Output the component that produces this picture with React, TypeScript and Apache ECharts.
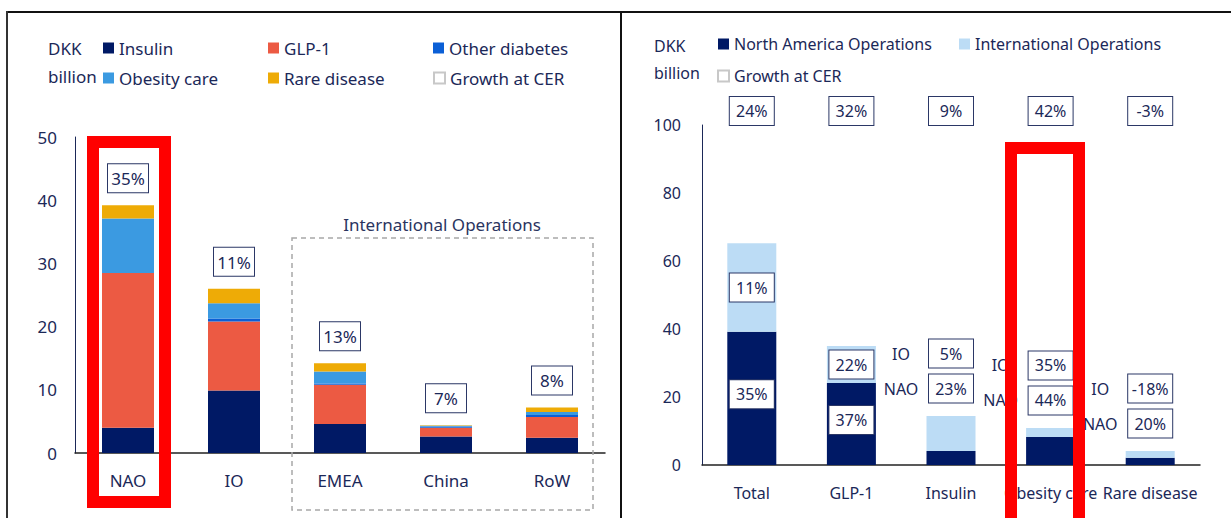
import React, { useEffect, useRef } from "react";
import * as echarts from "echarts";

// ---------- Left chart data (DKK billion) ----------
const leftCategories = ["NAO", "IO", "EMEA", "China", "RoW"];
const insulinValues = [4.0, 9.9, 4.6, 2.6, 2.4];
const glp1Values = [24.5, 10.9, 6.2, 1.4, 3.3];
const otherDiabetesValues = [0.0, 0.5, 0.2, 0.2, 0.3];
const obesityValues = [8.6, 2.4, 1.9, 0.1, 0.5];
const rareValues = [2.1, 2.3, 1.3, 0.1, 0.7];
const leftGrowth = ["35%", "11%", "13%", "7%", "8%"];
const leftYTicks = { min: 0, max: 50, interval: 10 };

// ---------- Right chart data (DKK billion) ----------
const rightCategories = ["Total", "GLP-1", "Insulin", "Obesity care", "Rare disease"];
const naoSales = [39.2, 24.1, 4.1, 8.2, 2.1];
const ioSales = [26.0, 10.9, 10.3, 2.7, 2.0];
const totalGrowth = ["24%", "32%", "9%", "42%", "-3%"];
const naoGrowth = ["35%", "37%", "23%", "44%", "20%"];
const ioGrowth = ["11%", "22%", "5%", "35%", "-18%"];
const rightYTicks = { min: 0, max: 100, interval: 20 };
const insideLabelCategories = ["Total", "GLP-1"];

const FONT = "Noto Sans";
const TEXT = "#1b2858";
const NAVY = "#001965";
const C_GLP1 = "#ec5a43";
const C_OTHER = "#0b5fd6";
const C_OBESITY = "#3b9ae1";
const C_RARE = "#eeab06";
const C_IO = "#bcdcf5";
const BOX_BORDER = "#2b3766";

const leftBox = {
  width: 32,
  align: "center",
  verticalAlign: "middle",
  padding: [6, 4, 5, 4],
  borderColor: BOX_BORDER,
  borderWidth: 1,
  backgroundColor: "#fff",
  color: TEXT,
  fontSize: 17,
  fontFamily: FONT,
};
const rightBox = { ...leftBox, width: 34, padding: [6, 5, 6, 5], fontSize: 16 };

export default function App() {
  const ref = useRef<HTMLDivElement>(null);

  useEffect(() => {
    document.body.style.margin = "0";
    if (!ref.current) return;
    const chart = echarts.init(ref.current, undefined, { renderer: "svg" });

    const ioData = ioSales.map((v, i) => {
      if (insideLabelCategories.includes(rightCategories[i])) {
        return {
          value: v,
          label: {
            show: true,
            position: "inside",
            formatter: `{box|${ioGrowth[i]}}`,
            rich: { box: rightBox },
          },
        };
      }
      return {
        value: v,
        label: {
          show: true,
          position: "top",
          distance: 10,
          formatter: `{lbl|IO}{box|${ioGrowth[i]}}{sp|}\n{lbl|NAO}{box|${naoGrowth[i]}}{sp|}`,
          rich: {
            lbl: {
              width: 38,
              align: "right",
              padding: [0, 9, 0, 0],
              lineHeight: 35,
              color: TEXT,
              fontSize: 16,
              fontFamily: FONT,
            },
            box: rightBox,
            sp: { width: 47, lineHeight: 35 },
          },
        },
      };
    });

    const naoData = naoSales.map((v, i) => {
      if (insideLabelCategories.includes(rightCategories[i])) {
        return {
          value: v,
          label: {
            show: true,
            position: "inside",
            offset: [0, -4],
            formatter: `{box|${naoGrowth[i]}}`,
            rich: { box: rightBox },
          },
        };
      }
      return { value: v };
    });

    const leftAxisLabel = { color: TEXT, fontSize: 17, fontFamily: FONT };
    const rightAxisLabel = { color: TEXT, fontSize: 16, fontFamily: FONT };

    chart.setOption({
      animation: false,
      textStyle: { fontFamily: FONT },
      title: [
        {
          text: "DKK\nbillion",
          left: 48,
          top: 34,
          padding: 0,
          textStyle: { fontSize: 17, fontWeight: "normal", color: TEXT, lineHeight: 28, fontFamily: FONT },
        },
        {
          text: "DKK\nbillion",
          left: 654,
          top: 32,
          padding: 0,
          textStyle: { fontSize: 16, fontWeight: "normal", color: TEXT, lineHeight: 27, fontFamily: FONT },
        },
      ],
      legend: [
        {
          left: 103,
          top: 38,
          padding: 0,
          width: 490,
          itemWidth: 11,
          itemHeight: 11,
          itemGap: 10,
          icon: "rect",
          data: ["Insulin", "GLP-1", "Other diabetes", "Obesity care", "Rare disease", "Growth at CER"],
          textStyle: { color: TEXT, fontSize: 17, fontFamily: FONT, width: 139, lineHeight: 20 },
        },
        {
          left: 717,
          top: 34,
          padding: 0,
          width: 480,
          itemWidth: 11,
          itemHeight: 11,
          itemGap: 12,
          icon: "rect",
          data: ["North America Operations", "International Operations", "Growth at CER"],
          textStyle: { color: TEXT, fontSize: 16, fontFamily: FONT, width: 213, lineHeight: 20 },
        },
      ],
      grid: [
        { left: 75, top: 137, width: 530, height: 316 },
        { left: 702, top: 125, width: 498, height: 340 },
      ],
      xAxis: [
        {
          type: "category",
          gridIndex: 0,
          data: leftCategories,
          axisLine: { lineStyle: { color: "#222", width: 1.5 } },
          axisTick: { show: false },
          axisLabel: { ...leftAxisLabel, margin: 19, interval: 0 },
        },
        {
          type: "category",
          gridIndex: 1,
          data: rightCategories,
          axisLine: { lineStyle: { color: "#222", width: 1.5 } },
          axisTick: { show: false },
          axisLabel: { ...rightAxisLabel, margin: 20, interval: 0, hideOverlap: false },
        },
        {
          type: "category",
          gridIndex: 1,
          position: "top",
          data: rightCategories,
          axisLine: { show: false },
          axisTick: { show: false },
          axisLabel: {
            interval: 0,
            margin: 0,
            formatter: (_v: string, i: number) => `{box|${totalGrowth[i]}}`,
            rich: { box: rightBox },
          },
        },
      ],
      yAxis: [
        {
          type: "value",
          gridIndex: 0,
          ...leftYTicks,
          axisLine: { show: true, lineStyle: { color: TEXT, width: 1 } },
          axisTick: { show: false },
          splitLine: { show: false },
          axisLabel: { ...leftAxisLabel, margin: 18 },
        },
        {
          type: "value",
          gridIndex: 1,
          ...rightYTicks,
          axisLine: { show: true, lineStyle: { color: TEXT, width: 1 } },
          axisTick: { show: false },
          splitLine: { show: false },
          axisLabel: { ...rightAxisLabel, margin: 21 },
        },
      ],
      series: [
        { name: "Insulin", type: "bar", stack: "L", xAxisIndex: 0, yAxisIndex: 0, barWidth: 52, data: insulinValues, itemStyle: { color: NAVY } },
        { name: "GLP-1", type: "bar", stack: "L", xAxisIndex: 0, yAxisIndex: 0, barWidth: 52, data: glp1Values, itemStyle: { color: C_GLP1 } },
        { name: "Other diabetes", type: "bar", stack: "L", xAxisIndex: 0, yAxisIndex: 0, barWidth: 52, data: otherDiabetesValues, itemStyle: { color: C_OTHER } },
        { name: "Obesity care", type: "bar", stack: "L", xAxisIndex: 0, yAxisIndex: 0, barWidth: 52, data: obesityValues, itemStyle: { color: C_OBESITY } },
        {
          name: "Rare disease",
          type: "bar",
          stack: "L",
          xAxisIndex: 0,
          yAxisIndex: 0,
          barWidth: 52,
          data: rareValues,
          itemStyle: { color: C_RARE },
          label: {
            show: true,
            position: "top",
            distance: 13,
            formatter: (p: any) => `{box|${leftGrowth[p.dataIndex]}}`,
            rich: { box: leftBox },
          },
        },
        {
          name: "Growth at CER",
          type: "bar",
          stack: "L",
          xAxisIndex: 0,
          yAxisIndex: 0,
          barWidth: 52,
          data: [],
          itemStyle: { color: "#fff", borderColor: "#c8c8c8", borderWidth: 1 },
        },
        { name: "North America Operations", type: "bar", stack: "R", xAxisIndex: 1, yAxisIndex: 1, barWidth: 49, data: naoData, itemStyle: { color: NAVY } },
        { name: "International Operations", type: "bar", stack: "R", xAxisIndex: 1, yAxisIndex: 1, barWidth: 49, data: ioData, itemStyle: { color: C_IO } },
        {
          name: "Growth at CER",
          type: "bar",
          stack: "R",
          xAxisIndex: 1,
          yAxisIndex: 1,
          barWidth: 49,
          data: [],
          itemStyle: { color: "#fff", borderColor: "#c8c8c8", borderWidth: 1 },
        },
      ],
      graphic: [
        { type: "line", z: 100, shape: { x1: 6, y1: 12, x2: 1231, y2: 12 }, style: { stroke: "#111", lineWidth: 2 } },
        { type: "line", z: 100, shape: { x1: 7, y1: 11, x2: 7, y2: 518 }, style: { stroke: "#333", lineWidth: 2 } },
        { type: "line", z: 100, shape: { x1: 621, y1: 11, x2: 621, y2: 518 }, style: { stroke: "#111", lineWidth: 2 } },
        {
          type: "text",
          z: 50,
          x: 442,
          y: 224,
          style: { text: "International Operations", fill: "#2a3460", font: `17px "${FONT}"`, align: "center", verticalAlign: "middle" },
        },
        {
          type: "rect",
          z: 50,
          shape: { x: 292, y: 238, width: 301, height: 272 },
          style: { fill: "none", stroke: "#a8a8a8", lineWidth: 1.5, lineDash: [5, 4] },
        },
        {
          type: "rect",
          z: 100,
          shape: { x: 93, y: 142, width: 72, height: 360 },
          style: { fill: "none", stroke: "#ff0000", lineWidth: 12 },
        },
        {
          type: "rect",
          z: 100,
          shape: { x: 1011, y: 148, width: 68, height: 400 },
          style: { fill: "none", stroke: "#ff0000", lineWidth: 12 },
        },
      ],
    });

    return () => chart.dispose();
  }, []);

  return <div ref={ref} style={{ width: 1231, height: 518 }} />;
}
